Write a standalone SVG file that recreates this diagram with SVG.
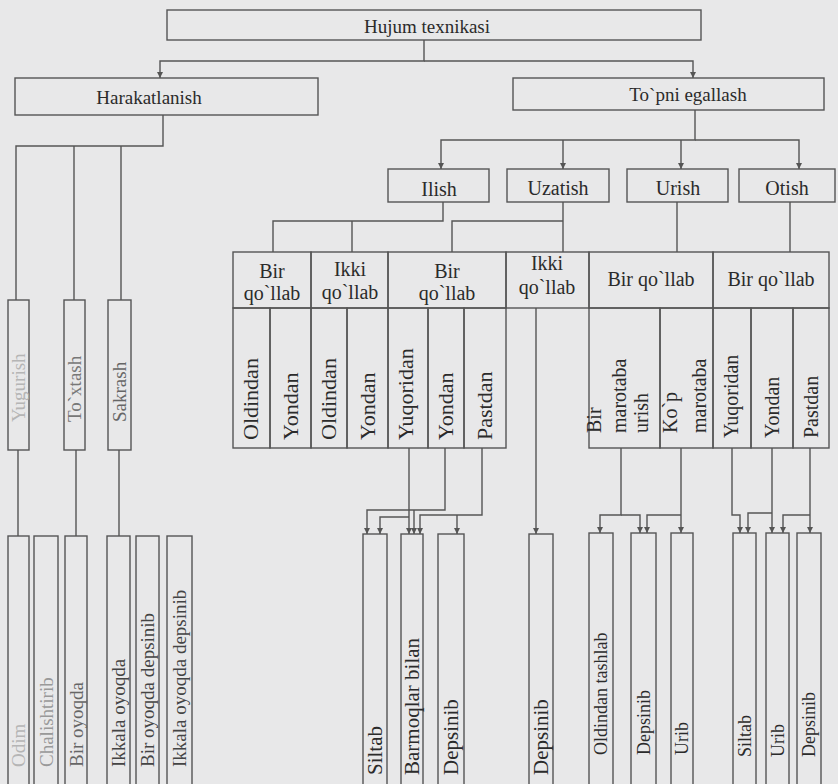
<svg xmlns="http://www.w3.org/2000/svg" width="838" height="784" viewBox="0 0 838 784">
<defs>
<marker id="ah" markerWidth="6" markerHeight="6" refX="6" refY="3" orient="auto" markerUnits="userSpaceOnUse"><path d="M0,0 L6,3 L0,6 z" fill="#555"/></marker>
<style>
.bx{fill:none;stroke:#555;stroke-width:1.4}
.ln{fill:none;stroke:#555;stroke-width:1.4}
.ar{marker-end:url(#ah)}
.t{font-family:"Liberation Serif","DejaVu Serif",serif;fill:#2b2b2b;font-size:20px}
.c{text-anchor:middle}
.v{font-size:22px}
.vl{font-size:19px;fill:#444}
.fade{fill:#9a9a9a}
.vm{font-size:21px}
.vr{font-size:18px}
.vs{font-size:20px}
</style>
</defs>
<rect x="0" y="0" width="838" height="784" fill="#e8e8e9"/>

<g id="connectors">
<path class="ln ar" d="M424,40 V61 H160 V78"/>
<path class="ln ar" d="M424,61 H693 V78"/>
<path class="ln ar" d="M695,110 V140 H441 V169"/>
<path class="ln ar" d="M695,140 H799 V169"/>
<path class="ln ar" d="M563,140 V169"/>
<path class="ln ar" d="M681,140 V169"/>
<path class="ln" d="M163,115 V146 H16 V300"/>
<path class="ln" d="M74,146 V300"/>
<path class="ln" d="M121,146 V300"/>
<path class="ln" d="M18,450 V536"/>
<path class="ln" d="M76,450 V536"/>
<path class="ln" d="M119,450 V536"/>
<path class="ln" d="M443,202 V221 H273 V252"/>
<path class="ln" d="M352,221 V252"/>
<path class="ln" d="M563,202 V252"/>
<path class="ln" d="M563,221 H452 V252"/>
<path class="ln" d="M677,202 V252"/>
<path class="ln" d="M790,202 V252"/>
<path class="ln ar" d="M536,308 V534"/>
<path class="ln ar" d="M409,448 V534"/>
<path class="ln ar" d="M409,517 H380 V534"/>
<path class="ln ar" d="M445,448 V510 H367 V534"/>
<path class="ln ar" d="M414,510 V534"/>
<path class="ln ar" d="M482,448 V515 H420 V534"/>
<path class="ln ar" d="M457,515 V534"/>
<path class="ln ar" d="M621,448 V515 H600 V533"/>
<path class="ln ar" d="M621,515 H640 V533"/>
<path class="ln ar" d="M681,448 V533"/>
<path class="ln ar" d="M681,515 H647 V533"/>
<path class="ln ar" d="M732,448 V515 H740 V533"/>
<path class="ln ar" d="M772,448 V533"/>
<path class="ln ar" d="M772,513 H748 V533"/>
<path class="ln ar" d="M810,448 V533"/>
<path class="ln ar" d="M810,515 H783 V533"/>
</g>

<g id="hujum"><rect class="bx" x="167" y="10" width="534" height="30"/><text class="t c" x="427" y="33" style="font-size:19px">Hujum texnikasi</text></g>
<g id="harakatlanish"><rect class="bx" x="15" y="78" width="303" height="37"/><text class="t c" x="149" y="104" style="font-size:19px">Harakatlanish</text></g>
<g id="topni"><rect class="bx" x="513" y="78" width="311" height="32"/><text class="t c" x="688" y="101" style="font-size:19px">To`pni egallash</text></g>
<g id="ilish"><rect class="bx" x="388" y="169" width="101" height="33"/><text class="t c" x="439" y="196">Ilish</text></g>
<g id="uzatish"><rect class="bx" x="507" y="169" width="102" height="33"/><text class="t c" x="558" y="195">Uzatish</text></g>
<g id="urish"><rect class="bx" x="627" y="169" width="101" height="33"/><text class="t c" x="678" y="195">Urish</text></g>
<g id="otish"><rect class="bx" x="739" y="169" width="96" height="33"/><text class="t c" x="787" y="195">Otish</text></g>

<g id="yugurish"><rect class="bx" x="8" y="300" width="21" height="150"/><text class="t vl fade" transform="translate(25,422) rotate(-90)" style="fill:#b5b5b5">Yugurish</text></g>
<g id="toxtash"><rect class="bx" x="64" y="300" width="21" height="150"/><text class="t vl" transform="translate(81,422) rotate(-90)" style="fill:#777">To`xtash</text></g>
<g id="sakrash"><rect class="bx" x="108" y="300" width="23" height="150"/><text class="t vl" transform="translate(126,422) rotate(-90)" style="fill:#666">Sakrash</text></g>

<g id="odim"><rect class="bx" x="8" y="536" width="21" height="254"/><text class="t vl" transform="translate(25,767) rotate(-90)" style="fill:#b5b5b5">Odim</text></g>
<g id="chalishtirib"><rect class="bx" x="34" y="536" width="24" height="254"/><text class="t vl" transform="translate(53,767) rotate(-90)" style="fill:#999">Chalishtirib</text></g>
<g id="bir-oyoqda"><rect class="bx" x="65" y="536" width="22" height="254"/><text class="t vl" transform="translate(83,767) rotate(-90)" style="fill:#666">Bir oyoqda</text></g>
<g id="ikkala-oyoqda"><rect class="bx" x="107" y="536" width="23" height="254"/><text class="t vl" transform="translate(125,767) rotate(-90)">Ikkala oyoqda</text></g>
<g id="bir-oyoqda-depsinib"><rect class="bx" x="136" y="536" width="23" height="254"/><text class="t vl" transform="translate(154,767) rotate(-90)">Bir oyoqda depsinib</text></g>
<g id="ikkala-oyoqda-depsinib"><rect class="bx" x="167" y="536" width="25" height="254"/><text class="t vl" transform="translate(186,767) rotate(-90)">Ikkala oyoqda depsinib</text></g>

<g id="h1"><rect class="bx" x="233" y="252" width="78" height="56"/><text class="t c" x="272" y="278">Bir</text><text class="t c" x="272" y="300">qo`llab</text></g>
<g id="h2"><rect class="bx" x="311" y="252" width="77" height="56"/><text class="t c" x="350" y="276">Ikki</text><text class="t c" x="350" y="299">qo`llab</text></g>
<g id="h3"><rect class="bx" x="388" y="252" width="118" height="56"/><text class="t c" x="447" y="278">Bir</text><text class="t c" x="447" y="300">qo`llab</text></g>
<g id="h4"><rect class="bx" x="506" y="252" width="83" height="56"/><text class="t c" x="547" y="270">Ikki</text><text class="t c" x="547" y="294">qo`llab</text></g>
<g id="h5"><rect class="bx" x="589" y="252" width="124" height="56"/><text class="t c" x="651" y="286">Bir qo`llab</text></g>
<g id="h6"><rect class="bx" x="713" y="252" width="116" height="56"/><text class="t c" x="771" y="286">Bir qo`llab</text></g>

<g id="s1"><rect class="bx" x="233" y="308" width="37" height="140"/><text class="t v" transform="translate(258,440) rotate(-90)">Oldindan</text></g>
<g id="s2"><rect class="bx" x="270" y="308" width="41" height="140"/><text class="t v" transform="translate(298,440) rotate(-90)">Yondan</text></g>
<g id="s3"><rect class="bx" x="311" y="308" width="36" height="140"/><text class="t v" transform="translate(336,440) rotate(-90)">Oldindan</text></g>
<g id="s4"><rect class="bx" x="347" y="308" width="41" height="140"/><text class="t v" transform="translate(375,440) rotate(-90)">Yondan</text></g>
<g id="s5"><rect class="bx" x="388" y="308" width="40" height="140"/><text class="t v" transform="translate(413,440) rotate(-90)">Yuqoridan</text></g>
<g id="s6"><rect class="bx" x="428" y="308" width="36" height="140"/><text class="t v" transform="translate(453,440) rotate(-90)">Yondan</text></g>
<g id="s7"><rect class="bx" x="464" y="308" width="42" height="140"/><text class="t v" transform="translate(492,440) rotate(-90)">Pastdan</text></g>
<g id="s8"><rect class="bx" x="589" y="308" width="71" height="140"/><text class="t vs" transform="translate(601,433) rotate(-90)">Bir</text><text class="t vs" transform="translate(626,433) rotate(-90)">marotaba</text><text class="t vs" transform="translate(648,433) rotate(-90)">urish</text></g>
<g id="s9"><rect class="bx" x="660" y="308" width="53" height="140"/><text class="t vs" transform="translate(677,433) rotate(-90)">Ko`p</text><text class="t vs" transform="translate(706,433) rotate(-90)">marotaba</text></g>
<g id="s10"><rect class="bx" x="713" y="308" width="38" height="140"/><text class="t vs" transform="translate(738,438) rotate(-90)">Yuqoridan</text></g>
<g id="s11"><rect class="bx" x="751" y="308" width="42" height="140"/><text class="t vs" transform="translate(779,438) rotate(-90)">Yondan</text></g>
<g id="s12"><rect class="bx" x="793" y="308" width="36" height="140"/><text class="t vs" transform="translate(818,438) rotate(-90)">Pastdan</text></g>

<g id="siltab1"><rect class="bx" x="363" y="534" width="24" height="256"/><text class="t vm" transform="translate(382,775) rotate(-90)">Siltab</text></g>
<g id="barmoqlar"><rect class="bx" x="401" y="534" width="22" height="256"/><text class="t vm" transform="translate(419,775) rotate(-90)">Barmoqlar bilan</text></g>
<g id="depsinib1"><rect class="bx" x="438" y="534" width="26" height="256"/><text class="t vm" transform="translate(458,775) rotate(-90)">Depsinib</text></g>
<g id="depsinib2"><rect class="bx" x="529" y="534" width="24" height="256"/><text class="t vm" transform="translate(548,775) rotate(-90)">Depsinib</text></g>
<g id="oldindan-tashlab"><rect class="bx" x="589" y="533" width="24" height="257"/><text class="t vr" transform="translate(607,755) rotate(-90)">Oldindan tashlab</text></g>
<g id="depsinib3"><rect class="bx" x="631" y="533" width="25" height="257"/><text class="t vr" transform="translate(650,755) rotate(-90)">Depsinib</text></g>
<g id="urib1"><rect class="bx" x="671" y="533" width="22" height="257"/><text class="t vr" transform="translate(688,755) rotate(-90)">Urib</text></g>
<g id="siltab2"><rect class="bx" x="733" y="533" width="23" height="257"/><text class="t vr" transform="translate(751,757) rotate(-90)">Siltab</text></g>
<g id="urib2"><rect class="bx" x="766" y="533" width="23" height="257"/><text class="t vr" transform="translate(784,757) rotate(-90)">Urib</text></g>
<g id="depsinib4"><rect class="bx" x="797" y="533" width="24" height="257"/><text class="t vr" transform="translate(815,757) rotate(-90)">Depsinib</text></g>
</svg>
